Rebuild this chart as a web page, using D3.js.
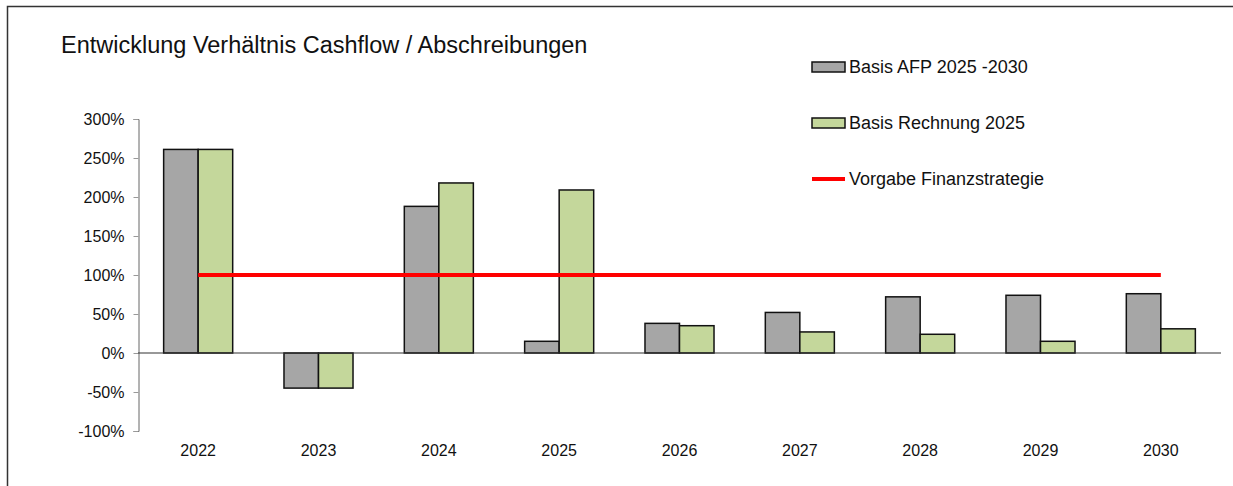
<!DOCTYPE html>
<html>
<head>
<meta charset="utf-8">
<script src="https://cdn.jsdelivr.net/npm/d3@7"></script>
<style>
  body { margin: 0; background: #fff; }
  svg { display: block; font-family: Arial, "Liberation Sans", sans-serif; }
</style>
</head>
<body>
<div id="chart"></div>
<script>
let wSvg = 1233; let hSvg = 486;

// data
const years = ["2022", "2023", "2024", "2025", "2026", "2027", "2028", "2029", "2030"];
const seriesNames = ["Basis AFP 2025 -2030", "Basis Rechnung 2025"];
const afpValues = [2.61, -0.45, 1.88, 0.15, 0.38, 0.52, 0.72, 0.74, 0.76];
const rechnungValues = [2.61, -0.45, 2.18, 2.09, 0.35, 0.27, 0.24, 0.15, 0.31];
const targetValue = 1.0;
const targetLabel = "Vorgabe Finanzstrategie";
const yTicks = [-1, -0.5, 0, 0.5, 1, 1.5, 2, 2.5, 3];
const title = "Entwicklung Verhältnis Cashflow / Abschreibungen";

const grayColor = "#a6a6a6";
const greenColor = "#c4d79b";
const redColor = "#ff0000";
const seriesColors = [grayColor, greenColor];

const rows = years.map((y, i) => ({ year: y, values: [afpValues[i], rechnungValues[i]] }));

let svg = d3.select("#chart")
    .append("svg")
    .attr("width", wSvg)
    .attr("height", hSvg);

// outer frame
svg.append("rect")
    .attr("x", 7.5).attr("y", 6.5)
    .attr("width", wSvg).attr("height", hSvg)
    .attr("fill", "none")
    .attr("stroke", "#333")
    .attr("stroke-width", 1.5);

svg.append("text")
    .attr("x", 61).attr("y", 53)
    .attr("font-size", 23.5)
    .attr("fill", "#111")
    .text(title);

const xScale = d3.scaleBand()
    .domain(years)
    .range([138, 1221]);

const xSub = d3.scaleBand()
    .domain([0, 1])
    .range([0, xScale.bandwidth()])
    .paddingInner(0)
    .paddingOuter(0.743);

const yScale = d3.scaleLinear()
    .domain([-1, 3])
    .range([431, 119]);

// y axis
const axisLeft = d3.axisLeft(yScale)
    .tickValues(yTicks)
    .tickSize(5)
    .tickPadding(9)
    .tickFormat(d => Math.round(d * 100) + "%");

const yAxis = svg.append("g")
    .attr("transform", "translate(138.5, 0)")
    .call(axisLeft);
yAxis.select(".domain").attr("stroke", "#666");
yAxis.selectAll(".tick line").attr("stroke", "#999");
yAxis.selectAll(".tick text")
    .attr("font-size", 16)
    .attr("fill", "#111")
    .style("font-family", "Arial, 'Liberation Sans', sans-serif");

// bars
const groups = svg.append("g")
    .selectAll("g")
    .data(rows)
    .enter()
    .append("g")
    .attr("transform", d => `translate(${xScale(d.year)}, 0)`);

groups.selectAll("rect")
    .data(d => d.values.map((v, i) => ({ v: v, i: i })))
    .enter()
    .append("rect")
    .attr("x", d => xSub(d.i))
    .attr("y", d => yScale(Math.max(0, d.v)))
    .attr("width", xSub.bandwidth())
    .attr("height", d => Math.abs(yScale(d.v) - yScale(0)))
    .attr("fill", d => seriesColors[d.i])
    .attr("stroke", "#111")
    .attr("stroke-width", 1.5);

// zero line / category axis
svg.append("line")
    .attr("x1", 138).attr("x2", 1221)
    .attr("y1", yScale(0)).attr("y2", yScale(0))
    .attr("stroke", "#333")
    .attr("stroke-width", 1.2);

svg.append("g")
    .selectAll("text")
    .data(years)
    .enter()
    .append("text")
    .attr("x", d => xScale(d) + xScale.bandwidth() / 2)
    .attr("y", 456)
    .attr("text-anchor", "middle")
    .attr("font-size", 16)
    .attr("fill", "#111")
    .text(d => d);

// target line
svg.append("line")
    .attr("x1", xScale(years[0]) + xScale.bandwidth() / 2)
    .attr("x2", xScale(years[years.length - 1]) + xScale.bandwidth() / 2)
    .attr("y1", yScale(targetValue)).attr("y2", yScale(targetValue))
    .attr("stroke", redColor)
    .attr("stroke-width", 4);

// legend
const legend = svg.append("g").attr("transform", "translate(812, 0)");
const legendY = [67, 123, 179];

seriesNames.forEach((name, i) => {
    legend.append("rect")
        .attr("x", 0).attr("y", legendY[i] - 5)
        .attr("width", 33).attr("height", 10)
        .attr("fill", seriesColors[i])
        .attr("stroke", "#111")
        .attr("stroke-width", 1.5);
    legend.append("text")
        .attr("x", 37).attr("y", legendY[i] + 6)
        .attr("font-size", 18)
        .attr("fill", "#111")
        .text(name);
});

legend.append("line")
    .attr("x1", 0).attr("x2", 33)
    .attr("y1", legendY[2]).attr("y2", legendY[2])
    .attr("stroke", redColor)
    .attr("stroke-width", 4);
legend.append("text")
    .attr("x", 37).attr("y", legendY[2] + 6)
    .attr("font-size", 18)
    .attr("fill", "#111")
    .text(targetLabel);
</script>
</body>
</html>
